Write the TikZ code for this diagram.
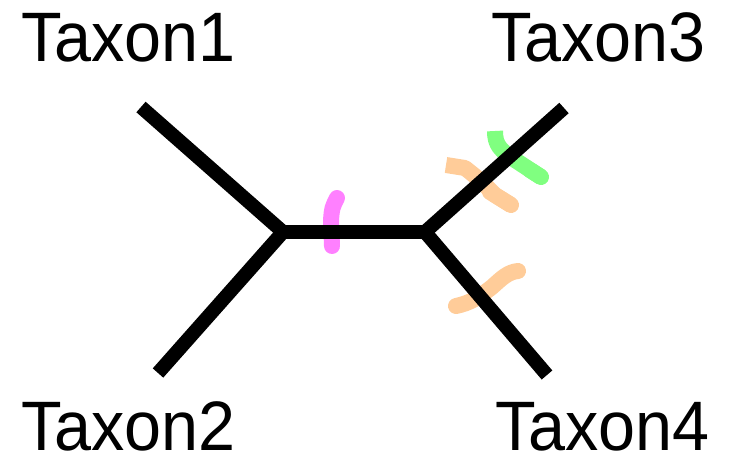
\documentclass[tikz,border=0pt]{standalone}
\usepackage{fontspec}
\setmainfont{Liberation Sans}
\newcommand{\taxontext}[1]{\scalebox{0.95}[1]{#1}}
\begin{document}
\definecolor{markpink}{RGB}{255,128,255}
\definecolor{markgreen}{RGB}{128,255,128}
\definecolor{markorange}{RGB}{255,204,153}
\begin{tikzpicture}[x=1pt,y=-1pt,
  branch/.style={line width=14pt, black},
  hlstroke/.style={line width=16pt, line cap=round, line join=round},
  taxon/.style={inner sep=0pt, font=\fontsize{70}{70}\selectfont}]
\useasboundingbox (0,0) rectangle (732,457);

% tree vertices
\coordinate (u) at (283,232);
\coordinate (v) at (425,232);
\coordinate (t1) at (141,107);
\coordinate (t2) at (158,373);
\coordinate (t3) at (564,108);
\coordinate (t4) at (547,375);

% highlight strokes crossing the branches
\draw[hlstroke, markpink] (337,198) .. controls (332,208) .. (331,220) -- (332,246);
\draw[hlstroke, markgreen, line cap=butt] (495,131) .. controls (495,145) and (500,150) .. (515,160) -- (541,177);
\draw[hlstroke, markgreen] (530,170) -- (541,177);
\draw[hlstroke, markorange, line cap=butt] (446,165) -- (465,168) .. controls (480,180) .. (495,195) -- (511,205);
\draw[hlstroke, markorange] (490,192) -- (511,205);
\draw[hlstroke, markorange] (456,306) .. controls (470,303) and (478,298) .. (492,287) .. controls (502,278) and (508,272) .. (518,271);

% branches
\draw[branch] (t1) -- (u);
\draw[branch] (t2) -- (u);
\draw[branch] (u) -- (v);
\draw[branch] (v) -- (t3);
\draw[branch] (v) -- (t4);

% leaf labels
\node[taxon, anchor=base west] (l1) at (21,62) {\taxontext{Taxon1}};
\node[taxon, anchor=base west] (l2) at (21,450) {\taxontext{Taxon2}};
\node[taxon, anchor=base east] (l3) at (706,62) {\taxontext{Taxon3}};
\node[taxon, anchor=base east] (l4) at (710,450) {\taxontext{Taxon4}};
\end{tikzpicture}
\end{document}
